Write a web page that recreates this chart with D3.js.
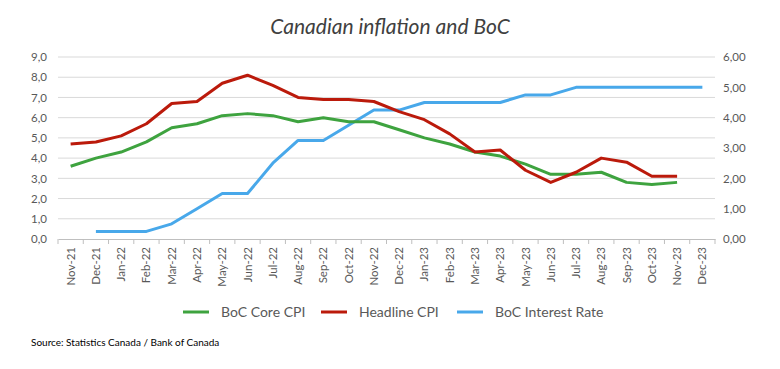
<html>
<head>
<script src="https://d3js.org/d3.v7.min.js"></script>
<style>
body { margin: 0; background: #fff; font-family: Lato, 'Open Sans', sans-serif; }
text.tick { fill: #595959; font-size: 11.5px; }
</style>
</head>
<body>
<div id="chart"></div>
<script>
var months = ["Nov-21","Dec-21","Jan-22","Feb-22","Mar-22","Apr-22","May-22","Jun-22","Jul-22","Aug-22","Sep-22","Oct-22","Nov-22","Dec-22",
  "Jan-23","Feb-23","Mar-23","Apr-23","May-23","Jun-23","Jul-23","Aug-23","Sep-23","Oct-23","Nov-23","Dec-23"];

// left axis (%)
var coreCPI = [3.6,4.0,4.3,4.8,5.5,5.7,6.1,6.2,6.1,5.8,6.0,5.8,5.8,5.4,5.0,4.7,4.3,4.1,3.7,3.2,3.2,3.3,2.8,2.7,2.8,null];
var headlineCPI = [4.7,4.8,5.1,5.7,6.7,6.8,7.7,8.1,7.6,7.0,6.9,6.9,6.8,6.3,5.9,5.2,4.3,4.4,3.4,2.8,3.3,4.0,3.8,3.1,3.1,null];
// right axis (%)
var boCRate = [null,0.25,0.25,0.25,0.5,1.0,1.5,1.5,2.5,3.25,3.25,3.75,4.25,4.25,4.5,4.5,4.5,4.5,4.75,4.75,5.0,5.0,5.0,5.0,5.0,5.0];

var leftTicks = [0,1,2,3,4,5,6,7,8,9];
var rightTicks = [0,1,2,3,4,5,6];

var width = 780, height = 369;
var plotL = 58, plotR = 715, plotT = 57, plotB = 239;

var svg = d3.select("#chart").append("svg")
  .attr("width", width).attr("height", height);

var x = d3.scaleBand().domain(months).range([plotL, plotR]);
var yL = d3.scaleLinear().domain([0, 9]).range([plotB, plotT]);
var yR = d3.scaleLinear().domain([0, 6]).range([plotB, plotT]);

// title
svg.append("text")
  .attr("x", 390).attr("y", 34)
  .attr("text-anchor", "middle")
  .style("font-style", "italic")
  .style("font-size", "21px")
  .style("fill", "#404040")
  .text("Canadian inflation and BoC");

// gridlines
svg.append("g").selectAll("line")
  .data(leftTicks.filter(function(d) { return d > 0; }))
  .enter().append("line")
  .attr("x1", plotL).attr("x2", plotR)
  .attr("y1", function(d) { return yL(d); })
  .attr("y2", function(d) { return yL(d); })
  .attr("stroke", "#d9d9d9").attr("stroke-width", 1);

// axis labels
var fmt1 = function(d) { return d3.format(".1f")(d).replace(".", ","); };
var fmt2 = function(d) { return d3.format(".2f")(d).replace(".", ","); };
var yAxisL = d3.axisLeft(yL).tickValues(leftTicks).tickFormat(fmt1).tickSize(0).tickPadding(11);
var gL = svg.append("g").attr("transform", "translate(" + plotL + ",0)").call(yAxisL);
gL.select(".domain").remove();
gL.selectAll("text").attr("class", "tick").style("font-family", "Lato, sans-serif");

var yAxisR = d3.axisRight(yR).tickValues(rightTicks).tickFormat(fmt2).tickSize(0).tickPadding(8);
var gR = svg.append("g").attr("transform", "translate(" + plotR + ",0)").call(yAxisR);
gR.select(".domain").remove();
gR.selectAll("text").attr("class", "tick").style("font-family", "Lato, sans-serif");

// x axis
var xAxis = d3.axisBottom(x).tickSize(0).tickPadding(0);
var gX = svg.append("g").attr("transform", "translate(0," + plotB + ")").call(xAxis);
gX.select(".domain").attr("stroke", "#bfbfbf");
gX.selectAll("text")
  .attr("class", "tick")
  .style("font-family", "Lato, sans-serif")
  .attr("transform", "rotate(-90)")
  .attr("text-anchor", "end")
  .attr("x", -8).attr("y", 0).attr("dy", "0.35em");
// category boundary ticks
svg.append("g").selectAll("line")
  .data(months.concat(["end"]))
  .enter().append("line")
  .attr("x1", function(d, i) { return plotL + i * x.step(); })
  .attr("x2", function(d, i) { return plotL + i * x.step(); })
  .attr("y1", plotB).attr("y2", plotB + 5)
  .attr("stroke", "#bfbfbf");

var cx = function(d, i) { return x(months[i]) + x.bandwidth() / 2; };

var series = [
  { name: "BoC Core CPI", values: coreCPI, scale: yL, color: "#3ea33f" },
  { name: "Headline CPI", values: headlineCPI, scale: yL, color: "#bb1a0b" },
  { name: "BoC Interest Rate", values: boCRate, scale: yR, color: "#48a8ea" }
];

// draw order: rate, core, headline
[series[2], series[0], series[1]].forEach(function(s) {
  var line = d3.line()
    .defined(function(d) { return d != null; })
    .x(cx)
    .y(function(d) { return s.scale(d); });
  svg.append("path")
    .datum(s.values)
    .attr("fill", "none")
    .attr("stroke", s.color)
    .attr("stroke-width", 3)
    .attr("stroke-linejoin", "round")
    .attr("d", line);
});

// legend
var legendX = [183, 321, 457];
var lg = svg.append("g").selectAll("g")
  .data(series).enter().append("g")
  .attr("transform", function(d, i) { return "translate(" + legendX[i] + ",312)"; });
lg.append("line")
  .attr("x1", 0).attr("x2", 26).attr("y1", 0).attr("y2", 0)
  .attr("stroke", function(d) { return d.color; })
  .attr("stroke-width", 3);
lg.append("text")
  .attr("x", 38).attr("y", 0).attr("dy", "0.35em")
  .style("font-size", "14px")
  .style("fill", "#595959")
  .text(function(d) { return d.name; });

// source
svg.append("text")
  .attr("x", 31).attr("y", 346)
  .style("font-size", "10px")
  .style("fill", "#000")
  .text("Source: Statistics Canada / Bank of Canada");
</script>
</body>
</html>
